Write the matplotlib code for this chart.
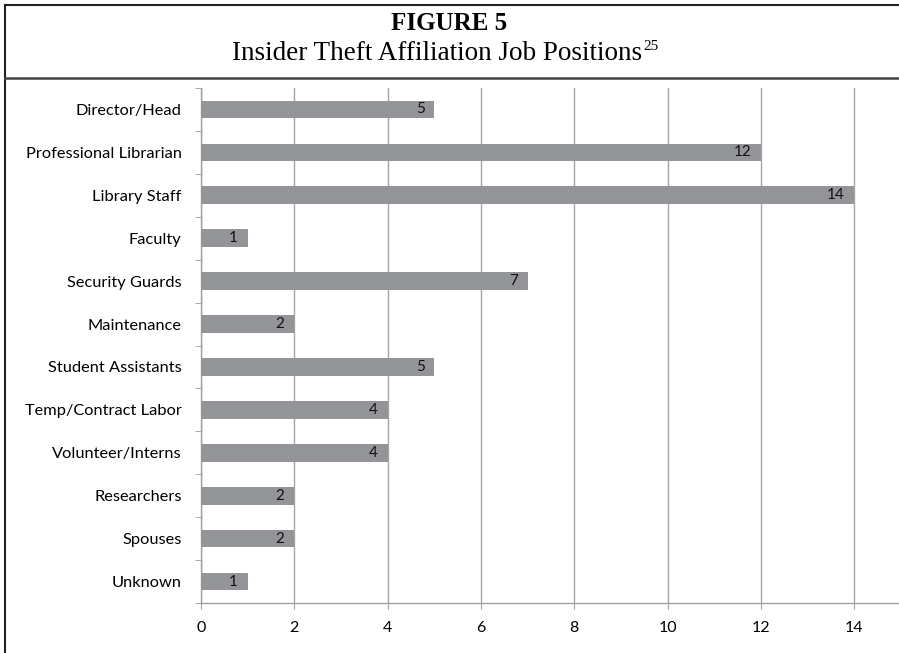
import numpy as np
import matplotlib
matplotlib.use('Agg')
import matplotlib.pyplot as plt
from matplotlib.lines import Line2D

positions = ['Director/Head', 'Professional Librarian', 'Library Staff', 'Faculty',
             'Security Guards', 'Maintenance', 'Student Assistants', 'Temp/Contract Labor',
             'Volunteer/Interns', 'Researchers', 'Spouses', 'Unknown']
counts = [5, 12, 14, 1, 7, 2, 5, 4, 4, 2, 2, 1]
x_ticks = [0, 2, 4, 6, 8, 10, 12, 14]

fig = plt.figure(figsize=(8.99, 6.53), dpi=100)
ax = fig.add_axes([201 / 899, 50 / 653, 700 / 899, 515 / 653])

y = np.arange(len(positions))
ax.barh(y, counts, height=0.41, color='#939598', zorder=3)
for yi, c in zip(y, counts):
    ax.annotate(str(c), (c, yi), xytext=(-7, 0), textcoords='offset points',
                ha='right', va='center', fontsize=11, family='Lato', color='#111111', zorder=4)

ax.set_xlim(0, 15)
ax.set_ylim(len(positions) - 0.5, -0.5)
ax.set_xticks(x_ticks)
ax.set_xticklabels([str(t) for t in x_ticks], family='Lato', fontsize=11.5)
ax.set_yticks(y)
ax.set_yticklabels(positions, family='Lato', fontsize=11.8)
ax.set_yticks(np.arange(len(positions) + 1) - 0.5, minor=True)
ax.tick_params(axis='y', which='major', length=0, pad=14)
ax.tick_params(axis='y', which='minor', length=4, color='#a0a0a0', direction='out')
ax.tick_params(axis='x', length=4, color='#a0a0a0', pad=9)

ax.grid(axis='x', color='#a6a6a6', linewidth=1, zorder=0)
for s in ['top', 'right']:
    ax.spines[s].set_visible(False)
for s in ['left', 'bottom']:
    ax.spines[s].set_color('#a0a0a0')
    ax.spines[s].set_linewidth(1)

# frame and title box
fig.add_artist(Line2D([5 / 899, 5 / 899], [0, 1 - 5 / 653], color='#222222', lw=1.5))
fig.add_artist(Line2D([5 / 899, 1], [1 - 5 / 653, 1 - 5 / 653], color='#222222', lw=1.5))
fig.add_artist(Line2D([5 / 899, 1], [1 - 78 / 653, 1 - 78 / 653], color='#444444', lw=1.8))

fig.text(0.5, 1 - 23 / 653, 'FIGURE 5', ha='center', va='center',
         family='Liberation Serif', fontweight='bold', fontsize=18)
sub = fig.text(0.5 - 12 / 899, 1 - 60 / 653, 'Insider Theft Affiliation Job Positions', ha='center',
               va='baseline', family='Liberation Serif', fontsize=19.5)
r = fig.canvas.get_renderer()
bb = sub.get_window_extent(renderer=r)
fig.text(bb.x1 / 899 + 1 / 899, 1 - 50 / 653, '25', ha='left', va='baseline',
         family='Liberation Serif', fontsize=11)

fig.savefig('out.png', dpi=100)
